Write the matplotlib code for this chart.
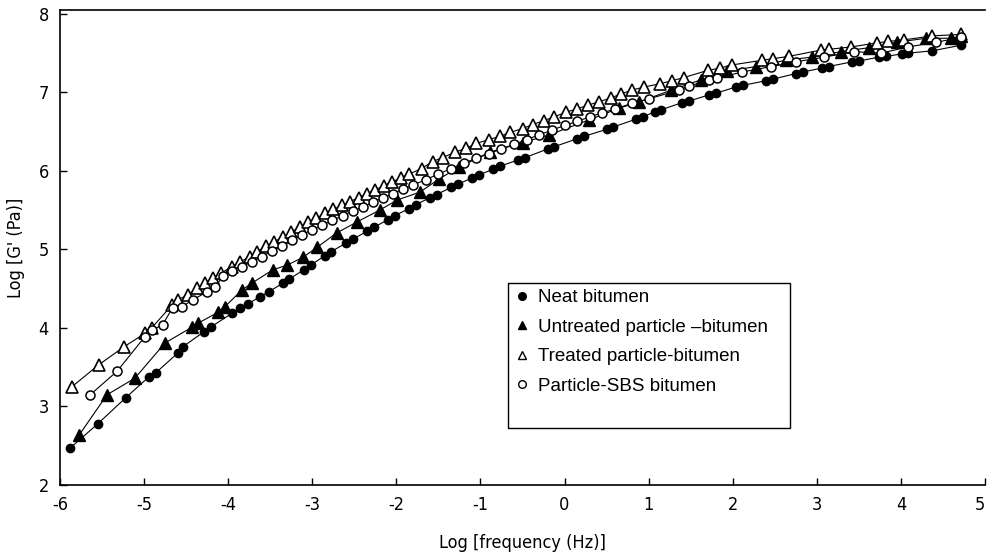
import matplotlib
matplotlib.use("Agg")
import matplotlib.pyplot as plt
from matplotlib.patches import Rectangle
import matplotlib.transforms as mtransforms

plt.rcParams['font.family'] = ['DejaVu Sans']
plt.rcParams['font.stretch'] = 'condensed'
plt.rcParams['axes.unicode_minus'] = False

# data (log frequency, log G')
neat_x = [-5.88, -5.55, -5.22, -4.94, -4.86, -4.60, -4.54, -4.29, -4.21, -3.95, -3.86, -3.76,
          -3.62, -3.52, -3.35, -3.28, -3.10, -3.02, -2.85, -2.78, -2.60, -2.52, -2.35, -2.27,
          -2.10, -2.02, -1.85, -1.77, -1.60, -1.52, -1.35, -1.27, -1.10, -1.02, -0.85, -0.77,
          -0.55, -0.47, -0.20, -0.12, 0.15, 0.23, 0.50, 0.58, 0.85, 0.93, 1.07, 1.15, 1.40,
          1.48, 1.72, 1.80, 2.04, 2.12, 2.40, 2.48, 2.75, 2.83, 3.06, 3.14, 3.42, 3.50, 3.74,
          3.82, 4.01, 4.08, 4.37, 4.71]
neat_y = [2.47, 2.78, 3.11, 3.38, 3.43, 3.68, 3.76, 3.95, 4.01, 4.19, 4.25, 4.31,
          4.40, 4.46, 4.57, 4.62, 4.74, 4.80, 4.92, 4.97, 5.08, 5.13, 5.23, 5.28,
          5.38, 5.43, 5.52, 5.57, 5.66, 5.70, 5.79, 5.83, 5.91, 5.95, 6.02, 6.06,
          6.14, 6.17, 6.28, 6.31, 6.41, 6.44, 6.53, 6.56, 6.66, 6.69, 6.75, 6.78, 6.87,
          6.89, 6.97, 6.99, 7.07, 7.09, 7.15, 7.17, 7.24, 7.26, 7.31, 7.33, 7.39, 7.40, 7.45,
          7.46, 7.49, 7.50, 7.53, 7.60]

untr_x = [-5.77, -5.44, -5.11, -4.75, -4.43, -4.36, -4.12, -4.04, -3.84, -3.72, -3.47, -3.30,
          -3.11, -2.94, -2.71, -2.47, -2.20, -1.99, -1.72, -1.49, -1.25, -0.89, -0.50, -0.18,
          0.29, 0.65, 0.89, 1.27, 1.62, 1.93, 2.28, 2.63, 2.94, 3.29, 3.62, 3.95, 4.30, 4.59, 4.72]
untr_y = [2.64, 3.15, 3.36, 3.81, 4.01, 4.06, 4.20, 4.27, 4.48, 4.57, 4.74, 4.80,
          4.90, 5.03, 5.21, 5.35, 5.50, 5.63, 5.73, 5.90, 6.05, 6.24, 6.36, 6.46,
          6.65, 6.80, 6.88, 7.03, 7.16, 7.27, 7.33, 7.41, 7.45, 7.52, 7.57, 7.64, 7.69, 7.69, 7.72]

treat_x = [-5.86, -5.54, -5.24, -4.99, -4.91, -4.67, -4.60, -4.48, -4.37, -4.28, -4.18, -4.08,
           -3.96, -3.86, -3.74, -3.66, -3.55, -3.45, -3.35, -3.25, -3.15, -3.05, -2.95, -2.85,
           -2.75, -2.65, -2.55, -2.45, -2.35, -2.25, -2.15, -2.05, -1.95, -1.85, -1.70, -1.57,
           -1.45, -1.30, -1.17, -1.05, -0.90, -0.77, -0.65, -0.50, -0.38, -0.25, -0.12, 0.02,
           0.15, 0.28, 0.41, 0.55, 0.67, 0.80, 0.95, 1.13, 1.28, 1.42, 1.70, 1.85, 1.99, 2.35,
           2.48, 2.67, 3.05, 3.15, 3.41, 3.71, 3.85, 4.04, 4.37, 4.72]
treat_y = [3.25, 3.53, 3.76, 3.93, 4.00, 4.29, 4.36, 4.42, 4.51, 4.57, 4.64, 4.70,
           4.78, 4.84, 4.91, 4.97, 5.04, 5.10, 5.16, 5.22, 5.29, 5.35, 5.40, 5.46,
           5.51, 5.56, 5.61, 5.66, 5.71, 5.76, 5.81, 5.86, 5.91, 5.96, 6.03, 6.12,
           6.17, 6.24, 6.29, 6.35, 6.40, 6.44, 6.49, 6.54, 6.59, 6.64, 6.69, 6.75,
           6.79, 6.84, 6.88, 6.93, 6.98, 7.03, 7.07, 7.11, 7.15, 7.19, 7.28, 7.31, 7.35, 7.41,
           7.43, 7.46, 7.54, 7.55, 7.58, 7.63, 7.65, 7.67, 7.72, 7.74]

sbs_x = [-5.64, -5.32, -4.99, -4.91, -4.78, -4.66, -4.55, -4.42, -4.25, -4.16, -4.06, -3.95,
         -3.84, -3.72, -3.60, -3.48, -3.36, -3.24, -3.12, -3.00, -2.88, -2.76, -2.64, -2.52,
         -2.40, -2.28, -2.16, -2.04, -1.92, -1.80, -1.65, -1.50, -1.35, -1.20, -1.05, -0.90,
         -0.75, -0.60, -0.45, -0.30, -0.15, 0.00, 0.15, 0.30, 0.45, 0.60, 0.80, 1.01, 1.36,
         1.48, 1.72, 1.81, 2.11, 2.46, 2.75, 3.09, 3.44, 3.76, 4.09, 4.42, 4.72]
sbs_y = [3.15, 3.45, 3.89, 3.97, 4.04, 4.26, 4.27, 4.36, 4.46, 4.52, 4.66, 4.73,
         4.78, 4.84, 4.91, 4.98, 5.05, 5.12, 5.19, 5.25, 5.31, 5.37, 5.43, 5.49,
         5.54, 5.60, 5.66, 5.71, 5.77, 5.82, 5.89, 5.96, 6.03, 6.10, 6.16, 6.22,
         6.28, 6.34, 6.40, 6.46, 6.52, 6.58, 6.63, 6.69, 6.74, 6.79, 6.86, 6.92, 7.03,
         7.08, 7.16, 7.18, 7.26, 7.33, 7.39, 7.45, 7.52, 7.50, 7.58, 7.64, 7.70]

labels = ['Neat bitumen', 'Untreated particle \u2013bitumen',
          'Treated particle-bitumen', 'Particle-SBS bitumen']
x_ticks = [-6, -5, -4, -3, -2, -1, 0, 1, 2, 3, 4, 5]
y_ticks = [2, 3, 4, 5, 6, 7, 8]

fig = plt.figure(figsize=(9.88, 5.53), dpi=100)
ax = fig.add_axes([60/988, 1 - 485/553, 925/988, 475/553])

lw = 0.8
ax.plot(neat_x, neat_y, '-', color='black', lw=lw, marker='o', ms=6,
        mfc='black', mec='black', label=labels[0])
ax.plot(untr_x, untr_y, '-', color='black', lw=lw, marker='^', ms=8,
        mfc='black', mec='black', label=labels[1])
ax.plot(treat_x, treat_y, '-', color='black', lw=lw, marker='^', ms=8,
        mfc='white', mec='black', mew=1.2, label=labels[2])
ax.plot(sbs_x, sbs_y, '-', color='black', lw=lw, marker='o', ms=6.5,
        mfc='white', mec='black', mew=1.1, label=labels[3])

ax.set_xlim(-6, 5)
ax.set_ylim(2, 8.05)
ax.set_xticks(x_ticks)
ax.set_yticks(y_ticks)
ax.set_xticklabels([str(t) for t in x_ticks])
ax.tick_params(direction='in', length=5, width=1, labelsize=13, pad=8)
ax.spines['right'].set_visible(False)
for s in ['left', 'bottom', 'top']:
    ax.spines[s].set_linewidth(1.2)

# keep the last x label inside the figure
last = ax.get_xticklabels()[-1]
last.set_transform(last.get_transform() +
                   mtransforms.ScaledTranslation(-5/100, 0, fig.dpi_scale_trans))

ax.set_xlabel('Log [frequency (Hz)]', fontsize=13, labelpad=14)
ax.set_ylabel("Log [G' (Pa)]", fontsize=13, labelpad=10)

# legend drawn without frame, box added separately
handles, _ = ax.get_legend_handles_labels()
leg_handles = []
for h in handles:
    hh = plt.Line2D([], [], ls='none', marker=h.get_marker(), ms=5.5,
                    mfc=h.get_markerfacecolor(), mec='black', mew=1)
    leg_handles.append(hh)
leg = ax.legend(leg_handles, labels, loc='upper left', bbox_to_anchor=(0.494, 0.412),
                frameon=False, handlelength=0.5, handletextpad=0.6,
                labelspacing=0.66, borderaxespad=0, borderpad=0,
                prop={'family': ['Liberation Sans', 'DejaVu Sans'], 'size': 13.5})
ax.add_patch(Rectangle((0.484, 0.12), 0.305, 0.305, transform=ax.transAxes,
                       fill=False, ec='black', lw=1.0))

fig.savefig('out.png', dpi=100)
